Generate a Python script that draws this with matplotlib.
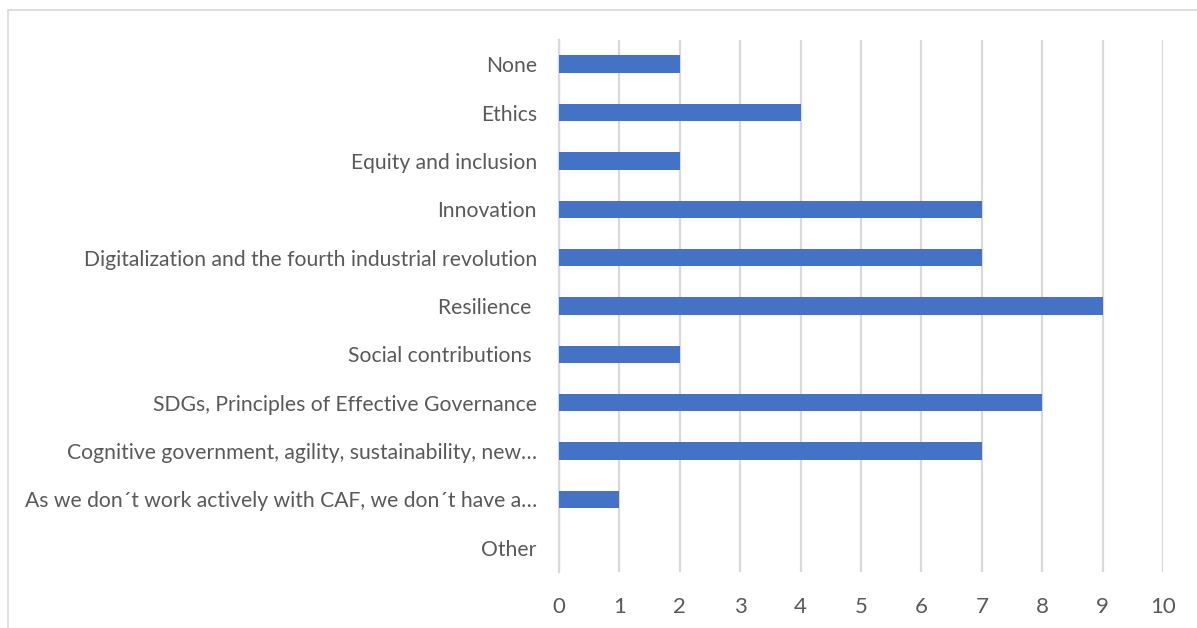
import matplotlib.pyplot as plt
from matplotlib.patches import Rectangle

categories = [
    "None",
    "Ethics",
    "Equity and inclusion",
    "Innovation",
    "Digitalization and the fourth industrial revolution",
    "Resilience ",
    "Social contributions ",
    "SDGs, Principles of Effective Governance",
    "Cognitive government, agility, sustainability, new…",
    "As we don´t work actively with CAF, we don´t have a…",
    "Other",
]
counts = [2, 4, 2, 7, 7, 9, 2, 8, 7, 1, 0]
xticks = list(range(0, 11))

bar_color = "#4472C4"
text_color = "#595959"
grid_color = "#D9D9D9"

plt.rcParams["font.family"] = ["Lato", "DejaVu Sans"]

fig = plt.figure(figsize=(11.97, 6.28), dpi=100)
ax = fig.add_axes([559 / 1197, 1 - 572 / 628, (1163 - 559) / 1197, (572 - 40) / 628])

ypos = list(range(len(categories)))
ax.barh(ypos, counts, height=0.36, color=bar_color, zorder=3)

ax.set_ylim(len(categories) - 0.5, -0.5)
ax.set_xlim(0, 10)
ax.set_xticks(xticks)
ax.set_yticks(ypos)
ax.set_yticklabels(categories)

ax.tick_params(axis="y", length=0, pad=16, labelsize=15.2, labelcolor=text_color)
ax.tick_params(axis="x", length=0, pad=18, labelsize=16, labelcolor=text_color)

ax.grid(axis="x", color=grid_color, linewidth=1.6, zorder=0)
for side in ["top", "right", "bottom"]:
    ax.spines[side].set_visible(False)
ax.spines["left"].set_color(grid_color)
ax.spines["left"].set_linewidth(1.6)

# outer chart border
fig.patches.append(Rectangle((7.5 / 1197, -0.1), 1.2, 1.1 - 10 / 628,
                             transform=fig.transFigure, fill=False,
                             edgecolor="#D9D9D9", linewidth=1.2))

fig.savefig("out.png", dpi=100)
